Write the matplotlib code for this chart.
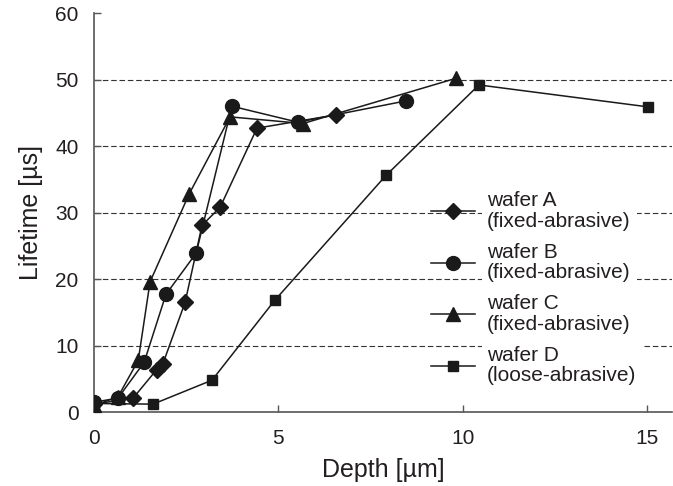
import numpy as np
import matplotlib.pyplot as plt

plt.rcParams['font.family'] = ['Liberation Sans', 'DejaVu Sans']

# data
a_depth = [0.0, 1.06, 1.7, 1.87, 2.47, 2.93, 3.42, 4.42, 6.56]
a_life = [1.2, 2.1, 6.4, 7.3, 16.5, 28.1, 30.8, 42.7, 44.7]

b_depth = [0.0, 0.65, 1.36, 1.95, 2.77, 3.74, 5.53, 8.46]
b_life = [1.5, 2.1, 7.5, 17.7, 23.9, 46.0, 43.6, 46.8]

c_depth = [0.0, 0.65, 1.2, 1.52, 2.58, 3.69, 5.67, 9.82]
c_life = [1.0, 2.3, 7.8, 19.6, 32.8, 44.4, 43.4, 50.2]

d_depth = [0.0, 1.6, 3.2, 4.9, 7.92, 10.44, 15.03]
d_life = [1.3, 1.2, 4.8, 16.8, 35.6, 49.2, 45.9]

labels = ['wafer A\n(fixed-abrasive)', 'wafer B\n(fixed-abrasive)',
          'wafer C\n(fixed-abrasive)', 'wafer D\n(loose-abrasive)']

txt = '#231f20'
fig = plt.figure(figsize=(6.73, 4.86), dpi=100)
ax = fig.add_axes([0.1397, 0.152, 0.859, 0.821])

series = [(a_depth, a_life, 'D', 8.5), (b_depth, b_life, 'o', 10),
          (c_depth, c_life, '^', 10.5), (d_depth, d_life, 's', 7)]
for (x, y, m, ms), lab in zip(series, labels):
    ax.plot(x, y, color='#1a1a1a', lw=1.1, marker=m, markersize=ms,
            markerfacecolor='#1a1a1a', markeredgecolor='#1a1a1a', label=lab, zorder=3)

for yy in [10, 20, 30, 40, 50]:
    ax.axhline(yy, color='#333333', lw=0.8, linestyle=(0, (5, 2.5)), zorder=1)

ax.set_xlim(0, 15.68)
ax.set_ylim(0, 60)
ax.set_xticks([0, 5, 10, 15])
ax.set_yticks(range(0, 61, 10))
for s in ['top', 'right']:
    ax.spines[s].set_visible(False)
for s in ['left', 'bottom']:
    ax.spines[s].set_color('#555555')
    ax.spines[s].set_linewidth(1.2)
ax.tick_params(direction='in', length=5, width=1, colors='#555555',
               labelsize=15, labelcolor=txt)
ax.tick_params(axis='x', pad=12)
ax.tick_params(axis='y', pad=11)
ax.set_xlabel('Depth [µm]', fontsize=18, color=txt, labelpad=7)
ax.set_ylabel('Lifetime [µs]', fontsize=18, color=txt, labelpad=9)

leg = ax.legend(loc='upper left', bbox_to_anchor=(431 / 673, 1 - 191 / 486),
                bbox_transform=fig.transFigure, frameon=False, numpoints=1,
                fontsize=15, handlelength=2.1, handletextpad=0.6,
                labelspacing=0.58, borderpad=0, borderaxespad=0)
for t in leg.get_texts():
    t.set_color(txt)
    t.set_linespacing(1.1)
    t.set_bbox(dict(facecolor='white', edgecolor='none', pad=4))

fig.savefig('out.png', dpi=100)
